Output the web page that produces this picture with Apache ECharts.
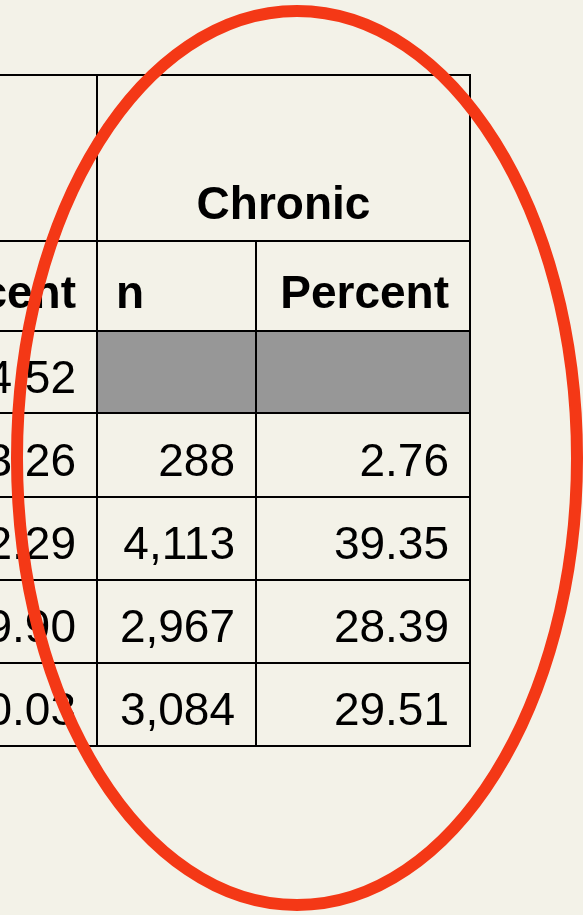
<!DOCTYPE html>
<html>
<head>
<meta charset="utf-8">
<script src="https://cdn.jsdelivr.net/npm/echarts@6/dist/echarts.min.js"></script>
<style>
  html, body { margin: 0; padding: 0; background: #f3f2e8; }
  #chart { width: 583px; height: 915px; }
</style>
</head>
<body>
<div id="chart"></div>
<script>
// table contents (left column is cut off by the picture edge)
const groupTitle = 'Chronic'
const columnHeaders = ['Percent', 'n', 'Percent']
const leftPercent = ['4.52', '3.26', '2.29', '9.90', '0.03']
const chronicN = [null, 288, 4113, 2967, 3084]
const chronicPercent = [null, 2.76, 39.35, 28.39, 29.51]

// layout (pixel space of the hidden axes)
const colEdges = [-140, 97, 256, 470]
const rowEdges = [75, 241, 331, 413, 497, 580, 663, 746]
const FONT = '"Liberation Sans", Arial, Helvetica, sans-serif'

// one datum per cell: [col, rowStart, rowEnd, colSpan, text, kind]
const cells = []
cells.push([0, 0, 1, 1, '', 'blank'])
cells.push([1, 0, 1, 2, groupTitle, 'title'])
columnHeaders.forEach((h, c) => cells.push([c, 1, 2, 1, h, c === 1 ? 'headLeft' : 'head']))
leftPercent.forEach((v, r) => {
  cells.push([0, r + 2, r + 3, 1, v, 'num'])
  const missing = chronicN[r] == null
  cells.push([1, r + 2, r + 3, 1, missing ? '' : chronicN[r].toLocaleString('en-US'), missing ? 'gray' : 'num'])
  cells.push([2, r + 2, r + 3, 1, missing ? '' : chronicPercent[r].toFixed(2), missing ? 'gray' : 'num'])
})

const chart = echarts.init(document.getElementById('chart'))

function renderCell(params, api) {
  const col = api.value(0)
  const r0 = api.value(1)
  const r1 = api.value(2)
  const span = api.value(3)
  const d = cells[params.dataIndex]
  const text = d[4]
  const kind = d[5]
  const tl = api.coord([colEdges[col], rowEdges[r0]])
  const br = api.coord([colEdges[col + span], rowEdges[r1]])
  const w = br[0] - tl[0]
  const h = br[1] - tl[1]
  const children = [{
    type: 'rect',
    shape: { x: tl[0], y: tl[1], width: w, height: h },
    style: { fill: kind === 'gray' ? '#979797' : 'transparent', stroke: '#000', lineWidth: 2 }
  }]
  if (text) {
    let x = br[0] - 21
    let align = 'right'
    let y = tl[1] + h / 2 + 8
    let weight = 'normal'
    if (kind === 'title') { x = tl[0] + w / 2; align = 'center'; y = br[1] - 35; weight = 'bold' }
    if (kind === 'head') { y = tl[1] + h / 2 + 9; weight = 'bold' }
    if (kind === 'headLeft') { x = tl[0] + 19; align = 'left'; y = tl[1] + h / 2 + 9; weight = 'bold' }
    children.push({
      type: 'text',
      style: {
        x: x, y: y, text: text, align: align, verticalAlign: 'middle',
        font: weight + ' 46px ' + FONT, fill: '#000'
      }
    })
  }
  return { type: 'group', children: children }
}

chart.setOption({
  backgroundColor: '#f3f2e8',
  animation: false,
  grid: { left: 0, right: 0, top: 0, bottom: 0 },
  xAxis: { type: 'value', min: 0, max: 583, show: false },
  yAxis: { type: 'value', min: 0, max: 915, inverse: true, show: false },
  series: [{
    type: 'custom',
    renderItem: renderCell,
    clip: false,
    data: cells.map(c => [c[0], c[1], c[2], c[3]])
  }],
  graphic: [{
    type: 'ellipse',
    shape: { cx: 297, cy: 458, rx: 280, ry: 447 },
    style: { fill: 'none', stroke: '#f43816', lineWidth: 12 },
    z: 100
  }]
})
</script>
</body>
</html>
